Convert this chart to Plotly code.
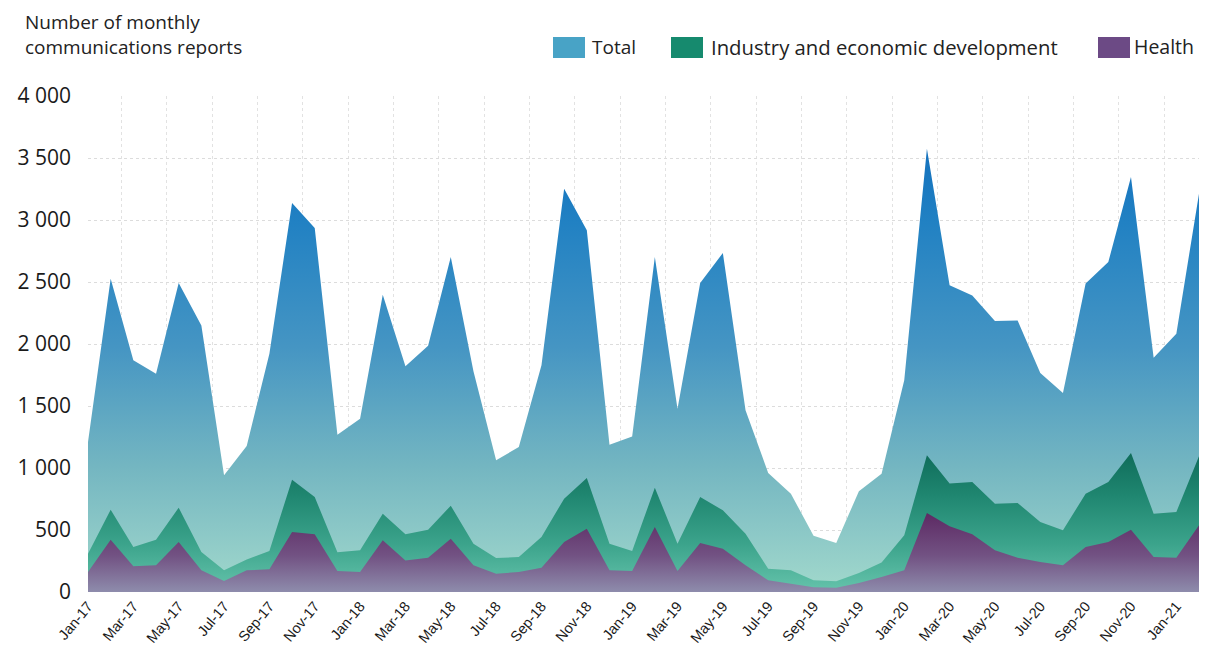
import plotly.graph_objects as go

# Monthly reports, Jan-17 .. Feb-21
months = [
    "Jan-17", "Feb-17", "Mar-17", "Apr-17", "May-17", "Jun-17", "Jul-17", "Aug-17", "Sep-17", "Oct-17", "Nov-17", "Dec-17",
    "Jan-18", "Feb-18", "Mar-18", "Apr-18", "May-18", "Jun-18", "Jul-18", "Aug-18", "Sep-18", "Oct-18", "Nov-18", "Dec-18",
    "Jan-19", "Feb-19", "Mar-19", "Apr-19", "May-19", "Jun-19", "Jul-19", "Aug-19", "Sep-19", "Oct-19", "Nov-19", "Dec-19",
    "Jan-20", "Feb-20", "Mar-20", "Apr-20", "May-20", "Jun-20", "Jul-20", "Aug-20", "Sep-20", "Oct-20", "Nov-20", "Dec-20",
    "Jan-21", "Feb-21",
]

total = [
    1210, 2527, 1868, 1761, 2492, 2150, 941, 1177, 1922, 3137, 2935, 1269,
    1398, 2398, 1820, 1985, 2702, 1780, 1062, 1169, 1828, 3253, 2917, 1188,
    1255, 2702, 1478, 2492, 2734, 1465, 960, 793, 453, 395, 812, 954,
    1707, 3575, 2473, 2392, 2185, 2190, 1766, 1605, 2487, 2661, 3347, 1890,
    2083, 3212,
]

industry = [
    309, 664, 363, 422, 680, 323, 175, 263, 331, 906, 766, 320,
    336, 632, 465, 503, 696, 390, 274, 282, 444, 753, 919, 390,
    331, 841, 390, 766, 659, 470, 188, 175, 94, 86, 153, 237,
    457, 1102, 874, 887, 712, 718, 565, 497, 793, 887, 1121, 632,
    645, 1094,
]

health = [
    161, 422, 207, 215, 403, 175, 89, 175, 183, 484, 465, 169,
    161, 417, 255, 277, 430, 215, 148, 161, 196, 403, 511, 175,
    169, 524, 169, 395, 349, 215, 94, 67, 38, 35, 73, 121,
    175, 637, 530, 465, 336, 277, 242, 215, 363, 403, 503, 282,
    277, 538,
]

series_names = ["Total", "Industry and economic development", "Health"]
y_ticks = [0, 500, 1000, 1500, 2000, 2500, 3000, 3500, 4000]

x = list(range(len(months)))

W, H = 1205, 647
L, R, T, B = 88, 6, 96, 55
PW, PH = W - L - R, H - T - B


def px_x(p):
    return (p - L) / PW


def px_y(p):
    return (H - B - p) / PH


fig = go.Figure()

fig.add_trace(go.Scatter(
    x=x, y=total, name=series_names[0], mode="lines", line=dict(width=0),
    fill="tozeroy",
    fillgradient=dict(type="vertical", start=0, stop=3600, colorscale=[
        [0.0, "#a2d9cc"], [0.28, "#74b6c1"], [0.55, "#4595c3"],
        [0.83, "#2181c3"], [1.0, "#1370bd"]]),
    showlegend=False, hoverinfo="skip",
))
fig.add_trace(go.Scatter(
    x=x, y=industry, name=series_names[1], mode="lines", line=dict(width=0),
    fill="tozeroy",
    fillgradient=dict(type="vertical", start=0, stop=1120, colorscale=[
        [0.0, "#66c4ac"], [0.35, "#3ba38b"], [0.7, "#1f8670"], [1.0, "#0f6c5a"]]),
    showlegend=False, hoverinfo="skip",
))
fig.add_trace(go.Scatter(
    x=x, y=health, name=series_names[2], mode="lines", line=dict(width=0),
    fill="tozeroy",
    fillgradient=dict(type="vertical", start=0, stop=650, colorscale=[
        [0.0, "#8e8cac"], [0.45, "#725283"], [1.0, "#5c2862"]]),
    showlegend=False, hoverinfo="skip",
))

# Legend drawn as swatches + labels across the top
legend_items = [
    (series_names[0], "#48a3c6", 553, 590, 19),
    (series_names[1], "#168a6e", 671, 709, 20.3),
    (series_names[2], "#6c4a85", 1098, 1132, 19.5),
]
shapes = []
annotations = []
for name, color, sx, tx, fs in legend_items:
    shapes.append(dict(
        type="rect", xref="paper", yref="paper",
        x0=px_x(sx), x1=px_x(sx + 32), y0=px_y(58), y1=px_y(37),
        fillcolor=color, line=dict(width=0),
    ))
    annotations.append(dict(
        text=name, xref="paper", yref="paper", x=px_x(tx), y=px_y(47),
        xanchor="left", yanchor="middle", showarrow=False,
        font=dict(family="Open Sans", size=fs, color="#222222"),
    ))

annotations.append(dict(
    text="Number of monthly<br>communications reports",
    xref="paper", yref="paper", x=px_x(23), y=px_y(7),
    xanchor="left", yanchor="top", align="left", showarrow=False,
    font=dict(family="Open Sans", size=19, color="#222222"),
))

fig.update_layout(
    width=W, height=H,
    margin=dict(l=L, r=R, t=T, b=B, autoexpand=False),
    paper_bgcolor="white", plot_bgcolor="white",
    separators=". ",
    shapes=shapes, annotations=annotations,
    showlegend=False,
)

fig.update_xaxes(
    automargin=False,
    range=[0, len(months) - 1],
    tickmode="array", tickvals=x[::2], ticktext=months[::2],
    tickangle=-50, ticks="", showgrid=False, zeroline=False, showline=False,
    tickfont=dict(family="Liberation Sans", size=14.5, color="#1a1a1a"),
    ticklabelstandoff=2,
    minor=dict(showgrid=True, tick0=1.47, dtick=2, gridcolor="#e2e2e2",
               griddash="dot", gridwidth=1),
)

fig.update_yaxes(
    automargin=False,
    range=[0, 4000], tickvals=y_ticks, tickformat=",d",
    showgrid=True, gridcolor="#dcdcdc", griddash="dot", gridwidth=1,
    zeroline=False, showline=False, ticks="",
    tickfont=dict(family="Open Sans", size=21, color="#1a1a1a"),
    ticklabelstandoff=16,
)

fig.write_html("out.html")
